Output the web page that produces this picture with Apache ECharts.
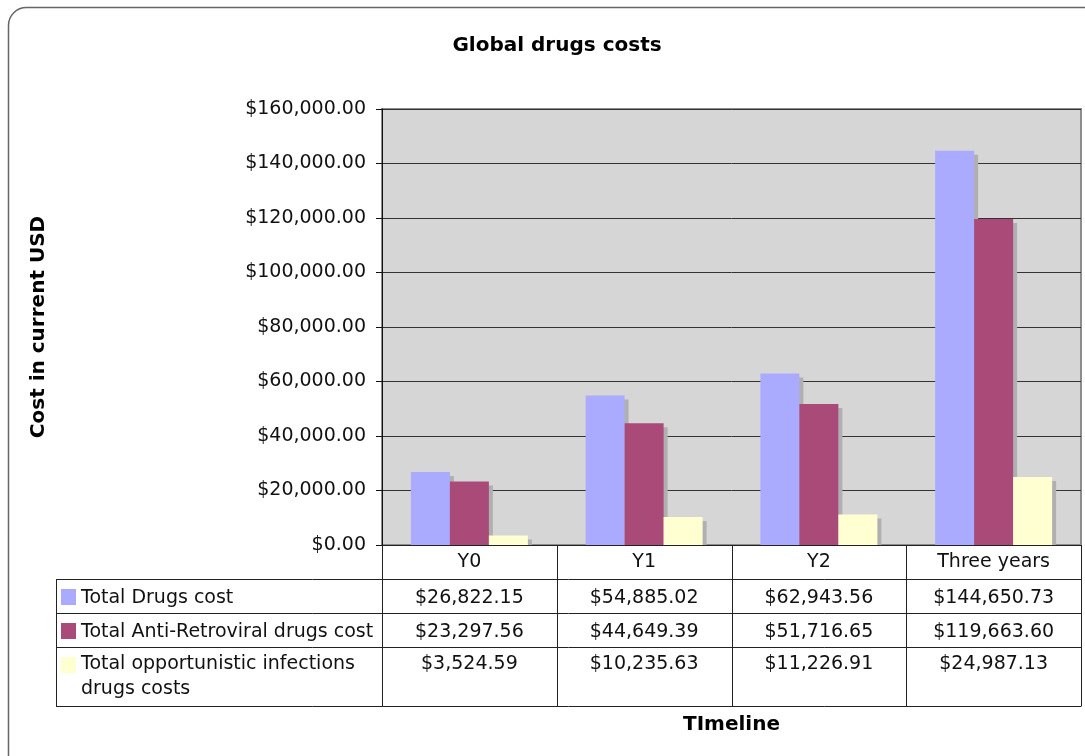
<!DOCTYPE html>
<html>
<head>
<meta charset="utf-8">
<script src="https://cdn.jsdelivr.net/npm/echarts@6/dist/echarts.min.js"></script>
<style>
  html, body { margin: 0; padding: 0; background: #fff; }
  #chart { width: 1085px; height: 756px; }
</style>
</head>
<body>
<div id="chart"></div>
<script>
// data
const categories = ['Y0', 'Y1', 'Y2', 'Three years']
const seriesNames = ['Total Drugs cost', 'Total Anti-Retroviral drugs cost', 'Total opportunistic infections drugs costs']
const totalDrugs = [26822.15, 54885.02, 62943.56, 144650.73]
const antiRetroviral = [23297.56, 44649.39, 51716.65, 119663.60]
const opportunistic = [3524.59, 10235.63, 11226.91, 24987.13]
const colors = ['#aaaaff', '#a94a78', '#ffffd2']

const FONT = 'DejaVu Sans'
// layout
const G = {left: 382, right: 4, top: 109, bottom: 211}
const W = 1085, H = 756
const plotRight = W - G.right
const axisY = H - G.bottom
const rowLines = [axisY, 579, 613, 647, 706]
const labelColX = 56

const money = v => {
  const [i, d] = v.toFixed(2).split('.')
  return '$' + i.replace(/\B(?=(\d{3})+(?!\d))/g, ',') + '.' + d
}

const allSeries = [totalDrugs, antiRetroviral, opportunistic]

// data table under the plot
const buildTable = () => {
  const els = []
  const colW = (plotRight - G.left) / categories.length
  const cols = categories.map((c, i) => G.left + i * colW).concat([plotRight])
  const line = (x1, y1, x2, y2) => ({
    type: 'line', z: 100,
    shape: {x1, y1, x2, y2},
    style: {stroke: '#222', lineWidth: 1}
  })
  // hides the bar shadows that spill under the axis
  els.push({
    type: 'rect', z: 99,
    shape: {x: G.left, y: axisY + 1, width: plotRight - G.left, height: 6},
    style: {fill: '#fff'}
  })
  // horizontal lines
  els.push(line(G.left, axisY + 0.5, plotRight, axisY + 0.5))
  for (let r = 1; r < rowLines.length; r++) {
    els.push(line(labelColX, rowLines[r] + 0.5, plotRight, rowLines[r] + 0.5))
  }
  // vertical lines
  cols.forEach(x => els.push(line(Math.round(x) + 0.5, axisY, Math.round(x) + 0.5, rowLines[4] + 0.5)))
  els.push(line(labelColX + 0.5, rowLines[1], labelColX + 0.5, rowLines[4] + 0.5))

  allSeries.forEach((vals, r) => {
    const top = rowLines[r + 1], bottom = rowLines[r + 2]
    const multi = r === 2
    const ty = multi ? top + 5 : (top + bottom) / 2 + 2
    const va = multi ? 'top' : 'middle'
    els.push({
      type: 'rect', z: 101,
      shape: {x: 61, y: top + 10, width: 15, height: 16},
      style: {fill: colors[r]}
    })
    els.push({
      type: 'text', z: 101, x: 81, y: ty,
      style: {
        text: seriesNames[r], fill: '#111', font: '19px "' + FONT + '"',
        verticalAlign: va, width: 300, overflow: 'break', lineHeight: 25
      }
    })
    vals.forEach((v, c) => {
      els.push({
        type: 'text', z: 101, x: (cols[c] + cols[c + 1]) / 2, y: ty,
        style: {
          text: money(v), fill: '#111', font: '19px "' + FONT + '"',
          align: 'center', verticalAlign: va, lineHeight: 25
        }
      })
    })
  })
  // outer frame
  els.push({
    type: 'rect', z: 0,
    shape: {x: 8.5, y: 7.5, width: 1120, height: 800, r: 18},
    style: {fill: 'none', stroke: '#666', lineWidth: 1.5}
  })
  return els
}

const chart = echarts.init(document.getElementById('chart'))
chart.setOption({
  animation: false,
  textStyle: {fontFamily: FONT},
  title: {
    text: 'Global drugs costs',
    left: 552, top: 31, textAlign: 'center',
    textStyle: {fontSize: 20, fontWeight: 'bold', color: '#000', fontFamily: FONT}
  },
  grid: {
    left: G.left, right: G.right, top: G.top, bottom: G.bottom,
    show: true, backgroundColor: '#d6d6d6', borderColor: '#8c8c8c', borderWidth: 2
  },
  xAxis: {
    type: 'category',
    data: categories,
    name: 'TImeline',
    nameLocation: 'middle',
    nameGap: 170,
    nameTextStyle: {fontSize: 20, fontWeight: 'bold', color: '#000'},
    axisLine: {lineStyle: {color: '#111', width: 1}},
    axisTick: {show: false},
    axisLabel: {fontSize: 19, color: '#111', margin: 8}
  },
  yAxis: {
    type: 'value',
    min: 0, max: 160000, interval: 20000,
    name: 'Cost in current USD',
    nameLocation: 'middle',
    nameRotate: 90,
    nameGap: 333,
    nameTextStyle: {fontSize: 20, fontWeight: 'bold', color: '#000'},
    axisLine: {show: true, lineStyle: {color: '#111', width: 1}},
    axisTick: {show: true, length: 6, lineStyle: {color: '#111'}},
    axisLabel: {fontSize: 19, color: '#111', margin: 16, formatter: v => money(v)},
    splitLine: {lineStyle: {color: '#333', width: 1}}
  },
  series: allSeries.map((vals, i) => ({
    name: seriesNames[i],
    type: 'bar',
    data: vals,
    barWidth: 39,
    barGap: '0%',
    itemStyle: {
      color: colors[i],
      shadowColor: '#b0b0b0',
      shadowOffsetX: 4,
      shadowOffsetY: 4,
      shadowBlur: 0
    }
  })),
  graphic: buildTable()
})
</script>
</body>
</html>
